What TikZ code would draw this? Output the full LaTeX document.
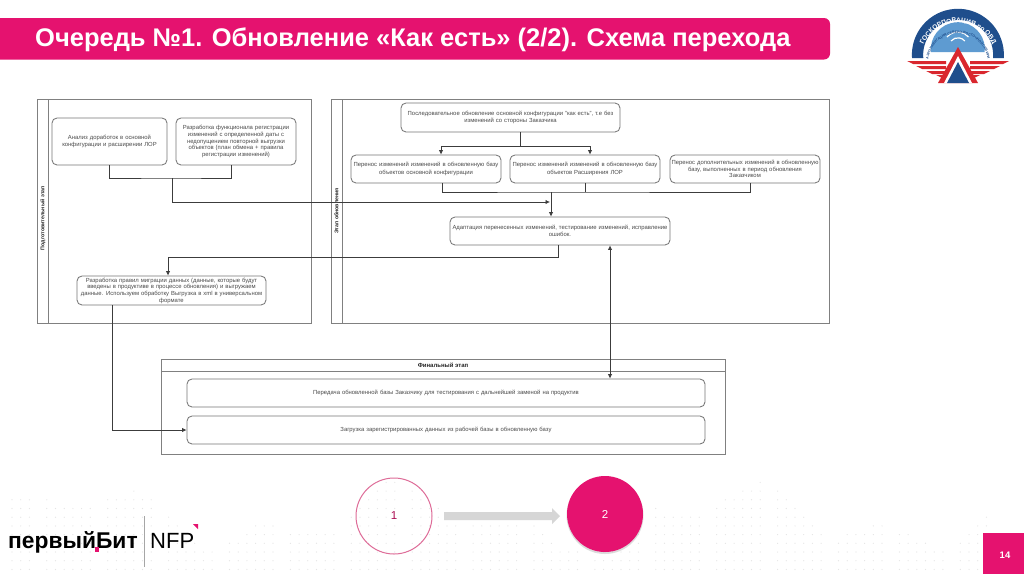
\documentclass[tikz,border=0pt]{standalone}
\usepackage{fontspec}
\setmainfont{Liberation Sans}
\usetikzlibrary{arrows.meta,calc,decorations.text}
\definecolor{brandpink}{HTML}{E5126F}
\definecolor{ringpink}{HTML}{DE6C98}
\definecolor{lanegrey}{HTML}{808080}
\definecolor{linegrey}{HTML}{3C3C3C}
\definecolor{textgrey}{HTML}{4A4A4A}
\definecolor{dotgrey}{HTML}{E4E4E4}
\definecolor{arrowgrey}{HTML}{D6D6D6}
\definecolor{logoblue}{HTML}{1F4E8C}
\definecolor{logosky}{HTML}{5E9BD1}
\definecolor{logored}{HTML}{D9272E}
\tikzset{
  x=1pt,y=-1pt,
  lane/.style={draw=lanegrey,line width=1pt,rectangle,inner sep=0pt,fill=white},
  lanetitle/.style={font=\fontsize{5.3}{6}\selectfont\bfseries,text=black!85,inner sep=0pt},
  task/.style={draw=linegrey!70,line width=.85pt,rounded corners=5pt,rectangle,inner sep=1pt,align=center,
    font=\fontsize{5.9}{7.4}\selectfont,text=textgrey,fill=white},
  tight/.style={task,font=\fontsize{5.9}{6.7}\selectfont},
  link/.style={draw=linegrey,line width=.75pt},
  flow/.style={link,-{Latex[length=4.5pt,width=4.4pt]}},
  flowboth/.style={link,{Latex[length=4.5pt,width=4.4pt]}-{Latex[length=4.5pt,width=4.4pt]}},
}
\newcommand{\placebox}[7][task]{%
  \node[#1,minimum width=#4pt-#3pt,minimum height=#6pt-#5pt,text width=#4pt-#3pt-3pt] (#2) at ({(#3+#4)/2},{(#5+#6)/2}) {#7};}
\begin{document}
\begin{tikzpicture}
\useasboundingbox (0,0) rectangle (1024,574);
\fill[white] (0,0) rectangle (1024,574);
% dotted background
\foreach \i in {0,...,112}{
  \foreach \j in {0,...,12}{
    \pgfmathsetmacro{\px}{12+8.7*\i}
    \pgfmathsetmacro{\py}{465+8.7*\j}
    \pgfmathsetmacro{\lim}{516-22*sin(\px*1.1)-14*sin(\px*2.9+40)}
    \pgfmathtruncatemacro{\show}{(\py>\lim)&&(mod(\i,7)!=3)?1:0}
    \ifnum\show=1 \fill[dotgrey] (\px,\py) circle (.6pt);\fi
  }
}
% header
\fill[brandpink,rounded corners=6pt] (-10,18) rectangle (830,59.5);
\node[anchor=west,inner sep=0pt,text=white,font=\fontsize{25.5}{28}\selectfont\bfseries] (title) at (35,39.5) {Очередь №1. Обновление «Как есть» (2/2). Схема перехода};
% emblem
\begin{scope}[shift={(958,55)},y=1pt]
  \fill[logoblue] (-46,-3) arc (184:-4:46) -- (35,-3) arc (-5:185:35) -- cycle;
  \fill[logosky] (-27,3) arc (186:-6:27) -- cycle;
  \draw[white,line width=1.2pt] (-7,14) arc (140:40:9);
  \draw[white,line width=1.2pt] (-11,18) arc (140:40:14);
  \path[decorate,decoration={text along path,text align=center,
    text={|\fontsize{6.6}{8}\selectfont\bfseries\color{white}|ГОСКОРПОРАЦИЯ по ОВД}}]
    (-38,-3) arc (176:4:38.2);
  \path[decorate,decoration={text along path,text align=center,
    text={|\fontsize{3.4}{4}\selectfont\bfseries\color{logoblue}|АЭРОНАВИГАЦИЯ СЕВЕРО-ВОСТОЧНОЙ СИБИРИ}}]
    (-29.5,-4) arc (172:8:29.8);
  \foreach \yy/\xx in {-6/51,-11/42,-16/32,-20/22}{
    \fill[logored] (-\xx,\yy) -- (-12,\yy) -- (-12,\yy-3) -- (-\xx+6,\yy-3) -- cycle;
    \fill[logored] (\xx,\yy) -- (12,\yy) -- (12,\yy-3) -- (\xx-6,\yy-3) -- cycle;
  }
  \fill[logored] (0,8) -- (20,-28) -- (-20,-28) -- cycle;
  \fill[white] (0,-1) -- (14,-28) -- (-14,-28) -- cycle;
  \fill[logoblue] (0,-7) -- (11,-28) -- (-11,-28) -- cycle;
\end{scope}
% left lane
\placebox[lane]{laneL}{37}{311}{99}{323}{}
\coordinate (laneLa) at (48,99); \coordinate (laneLb) at (48,323);
\draw[draw=lanegrey,line width=1pt] (laneLa) -- (laneLb);
\node[lanetitle,rotate=90] (laneLt) at (43,218) {Подготовительный этап};
\placebox{a}{52}{167}{118}{165}{Анализ доработок в основной\\конфигурации и расширении ЛОР}
\placebox[tight]{b}{176}{296}{118}{165}{Разработка функционала регистрации\\изменений с определенной даты с\\недопущением повторной выгрузки\\объектов (план обмена + правила\\регистрации изменений)}
\placebox[tight]{c}{77}{266}{276}{305}{Разработка правил миграции данных (данные, которые будут\\введены в продуктиве в процессе обновления) и выгружаем\\данные. Используем обработку Выгрузка в xml в универсальном\\формате}
% right lane
\placebox[lane]{laneR}{331}{829}{99}{323}{}
\coordinate (laneRa) at (342,99); \coordinate (laneRb) at (342,323);
\draw[draw=lanegrey,line width=1pt] (laneRa) -- (laneRb);
\node[lanetitle,rotate=90] (laneRt) at (336.5,211) {Этап обновления};
\placebox{d}{401}{620}{103}{132}{Последовательное обновление основной конфигурации "как есть", т.е без\\изменений со стороны Заказчика}
\placebox{e}{351}{501}{155}{183}{Перенос изменений изменений в обновленную базу\\объектов основной конфигурации}
\placebox{f}{510}{660}{155}{183}{Перенос изменений изменений в обновленную базу\\объектов Расширения ЛОР}
\placebox[tight]{g}{670}{820}{155}{183}{Перенос дополнительных изменений в обновленную\\базу, выполненных в период обновления\\Заказчиком}
\placebox{h}{450}{670}{217}{245}{Адаптация перенесенных изменений, тестирование изменений, исправление\\ошибок.}
% final lane
\placebox[lane]{laneF}{161}{725}{359}{454}{}
\coordinate (laneFa) at (161,371); \coordinate (laneFb) at (725,371);
\draw[draw=lanegrey,line width=1pt] (laneFa) -- (laneFb);
\node[lanetitle,font=\fontsize{6}{6}\selectfont\bfseries] (laneFt) at (443,365.5) {Финальный этап};
\placebox{i}{187}{705}{379}{407}{Передача обновленной базы Заказчику для тестирования с дальнейшей заменой на продуктив}
\placebox{j}{187}{705}{416}{444}{Загрузка зарегистрированных данных из рабочей базы в обновленную базу}
% connectors
\coordinate (j1) at (172,178);
\coordinate (j2) at (172,202);
\coordinate (j3) at (551,192);
\coordinate (j4) at (520,146);
\coordinate (j5) at (558,257);
\coordinate (j6) at (168,257);
\draw[link] (a.south) |- (j1) -| ([xshift=-5pt]b.south);
\draw[link] (j1) -- (j2);
\draw[flow] (j2) -- ($(j2 -| j3)+(-1,0)$);
\draw[link] ([xshift=9.5pt]d.south) -- (j4);
\draw[flow] (j4) -| ([xshift=15pt]e.north);
\draw[flow] (j4) -| ([xshift=5pt]f.north);
\draw[link] ([xshift=16pt]e.south) |- (j3) -| ([xshift=5pt]g.south);
\draw[link] (f.south) -- (f.south |- j3);
\draw[flow] (j3) -- ([xshift=-9pt]h.north);
\draw[link] ([xshift=-2pt]h.south) -- (j5) -- (j6);
\draw[flow] (j6) -- ([xshift=-3.5pt]c.north);
\draw[flow] ([xshift=-59.5pt]c.south) |- (j.west);
\draw[flowboth] ([xshift=50pt]h.south) -- ([xshift=164pt]i.north);
% stage indicators
\node[circle,draw=ringpink,line width=1pt,minimum size=76pt,inner sep=0pt,text=brandpink!75!black,font=\fontsize{11.5}{12}\selectfont] (s1) at (394,516) {1};
\fill[black!30,opacity=.45] (605,515.5) circle (38.5pt);
\node[circle,fill=brandpink,minimum size=76pt,inner sep=0pt,text=white,font=\fontsize{11.5}{12}\selectfont] (s2) at (605,514) {2};
\coordinate (sa) at (444,516);
\fill[arrowgrey] (sa) ++(0,-4) -- ++(108,0) -- ++(0,-4) -- ++(8,8) -- ++(-8,8) -- ++(0,-4) -- ++(-108,0) -- cycle;
% page number
\fill[brandpink] (983,533) rectangle (1024,574);
\node[text=white,font=\fontsize{9.5}{10}\selectfont\bfseries,inner sep=0pt] (pg) at (1005,555) {14};
% company logos
\node[anchor=base west,inner sep=0pt,text=black,font=\fontsize{22.8}{24}\selectfont\bfseries] (pb) at (8,548) {первыйБит};
\fill[brandpink] (94.5,547) rectangle (99,551.5);
\coordinate (sep1) at (144,516); \coordinate (sep2) at (144,567);
\draw[black!35,line width=.6pt] (sep1) -- (sep2);
\node[anchor=base west,inner sep=0pt,text=black,font=\fontsize{22}{24}\selectfont] (nfp) at (150,548) {NFP};
\fill[brandpink] (193,524) -- (198,524) -- (198,529) -- cycle;
\end{tikzpicture}
\end{document}
